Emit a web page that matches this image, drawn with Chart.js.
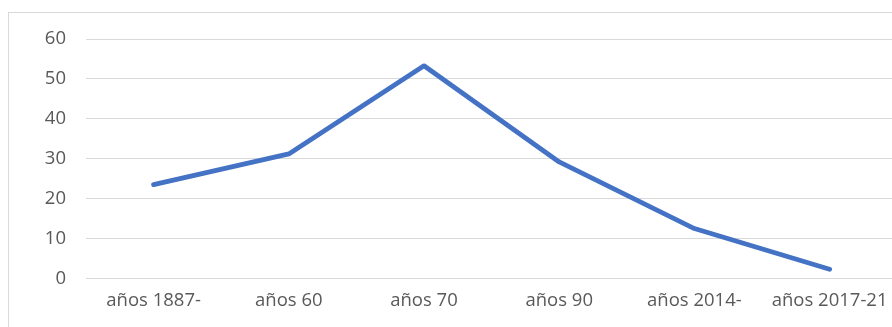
<!DOCTYPE html>
<html>
<head>
<meta charset="utf-8">
<script src="https://cdn.jsdelivr.net/npm/chart.js@4/dist/chart.umd.min.js"></script>
<style>
  html, body { margin: 0; padding: 0; background: #ffffff; overflow: hidden; width: 892px; height: 327px; }
  #frame { position: absolute; left: 8px; top: 12px; width: 908px; height: 330px; border: 1px solid #d9d9d9; background: #ffffff; }
  #wrap { position: absolute; left: 0; top: -5.4px; width: 908px; height: 320px; }
</style>
</head>
<body>
<div id="frame"><div id="wrap"><canvas id="c"></canvas></div></div>
<script>
// Periods on the horizontal axis
const categories = ['años 1887-', 'años 60', 'años 70', 'años 90', 'años 2014-', 'años 2017-21'];
// Value for each period
const values = [23.5, 31.2, 53.3, 29.2, 12.5, 2.3];
// Vertical axis ticks
const yTicks = [0, 10, 20, 30, 40, 50, 60];

const textColor = '#595959';
const gridColor = '#d9d9d9';
const font = { family: "'Open Sans', sans-serif", size: 18.5 };

new Chart(document.getElementById('c'), {
  type: 'line',
  data: {
    labels: categories,
    datasets: [{
      data: values,
      borderColor: '#4472C4',
      borderWidth: 4.8,
      borderCapStyle: 'round',
      borderJoinStyle: 'round',
      pointRadius: 0,
      pointHoverRadius: 0,
      fill: false,
      tension: 0
    }]
  },
  options: {
    responsive: true,
    maintainAspectRatio: false,
    animation: false,
    events: [],
    layout: { padding: { top: 0, right: 19.8, bottom: 0, left: 0 } },
    plugins: { legend: { display: false }, tooltip: { enabled: false } },
    scales: {
      x: {
        offset: true,
        grid: { display: false, drawTicks: false },
        border: { display: false },
        ticks: { color: textColor, font: font, padding: 11, maxRotation: 0, autoSkip: false },
        afterFit: (s) => { s.height = 49.6; }
      },
      y: {
        min: yTicks[0],
        max: yTicks[yTicks.length - 1],
        afterBuildTicks: (s) => { s.ticks = yTicks.map(v => ({ value: v })); },
        grid: { color: gridColor, lineWidth: 1, drawTicks: false },
        border: { display: false },
        ticks: { color: textColor, font: font, padding: 20 },
        afterFit: (s) => { s.width = 77; }
      }
    }
  }
});
</script>
</body>
</html>
